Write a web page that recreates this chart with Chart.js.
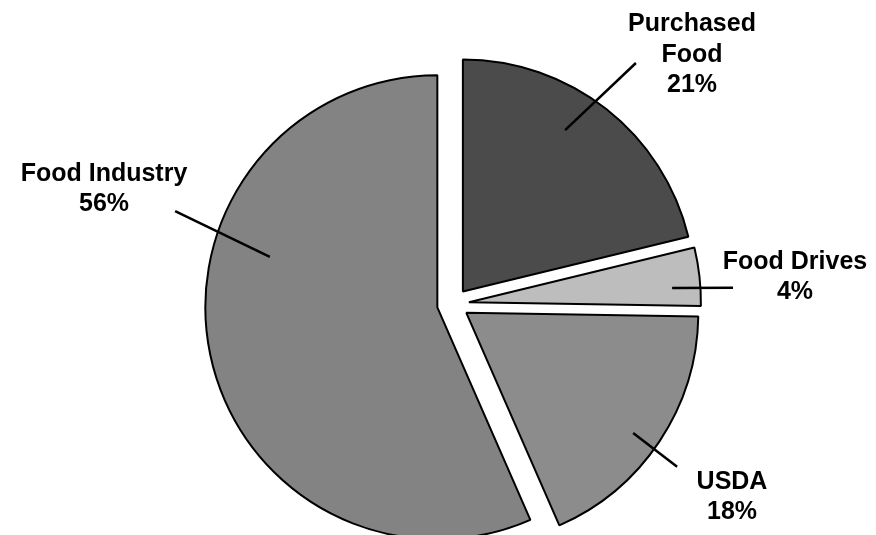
<!DOCTYPE html>
<html>
<head>
<meta charset="utf-8">
<script src="https://cdn.jsdelivr.net/npm/chart.js@4/dist/chart.umd.min.js"></script>
<style>
  html, body { margin: 0; padding: 0; background: #ffffff; }
  #wrap { width: 876px; height: 535px; }
  canvas { display: block; }
</style>
</head>
<body>
<div id="wrap"><canvas id="c" width="876" height="535"></canvas></div>
<script>
// ---- data ----
const categories = ["Purchased Food", "Food Drives", "USDA", "Food Industry"];
const shares = [21, 4, 18, 56];
const labelLines = [["Purchased", "Food"], ["Food Drives"], ["USDA"], ["Food Industry"]];

// ---- styling ----
const sliceColors = ["#4b4b4b", "#bdbdbd", "#8c8c8c", "#838383"];
const EXPLODE = 16; // px each slice is pulled out along its bisector

// label leader geometry, relative to the pie centre (angle in degrees clockwise from 12 o'clock,
// radii as fractions of the outer radius) and text-block centre offsets in px
const leaderSpec = [
  { a1: 32.8, r1: 0.892, a2: 37.2, r2: 1.304, tx: 239, ty: -250 },
  { a1: 85.8, r1: 0.947, a2: 86.7, r2: 1.209, tx: 342, ty: -28 },
  { a1: 125.6, r1: 0.955, a2: 126.0, r2: 1.194, tx: 279, ty: 192 },
  { a1: 284.4, r1: 0.815, a2: 288.5, r2: 1.263, tx: -349, ty: -116 }
];

// pull each arc element out along its bisector (uniform translation, radius unchanged)
const explodePlugin = {
  id: 'explodeSlices',
  beforeDatasetsDraw(chart) {
    chart.getDatasetMeta(0).data.forEach(el => {
      if (el._explodeWrapped) return;
      const orig = el.draw;
      el.draw = function (ctx, area) {
        const mid = (this.startAngle + this.endAngle) / 2;
        ctx.save();
        ctx.translate(Math.cos(mid) * EXPLODE, Math.sin(mid) * EXPLODE);
        orig.call(this, ctx, area);
        ctx.restore();
      };
      el._explodeWrapped = true;
    });
  }
};

const labelPlugin = {
  id: 'sliceLabels',
  afterDatasetsDraw(chart) {
    const ctx = chart.ctx;
    const meta = chart.getDatasetMeta(0);
    ctx.save();
    meta.data.forEach((arc, i) => {
      const p = arc.getProps(['x', 'y', 'outerRadius'], true);
      const R = p.outerRadius;
      const s = leaderSpec[i];
      const pt = (a, r) => {
        const rad = a * Math.PI / 180;
        return [p.x + Math.sin(rad) * r * R, p.y - Math.cos(rad) * r * R];
      };
      const [x1, y1] = pt(s.a1, s.r1);
      const [x2, y2] = pt(s.a2, s.r2);
      ctx.beginPath();
      ctx.moveTo(x1, y1);
      ctx.lineTo(x2, y2);
      ctx.lineWidth = 2.5;
      ctx.strokeStyle = '#000';
      ctx.stroke();

      const lines = labelLines[i].concat([shares[i] + '%']);
      const lh = 30.5;
      ctx.font = 'bold 25px "Liberation Sans", Arial, sans-serif';
      ctx.fillStyle = '#000';
      ctx.textAlign = 'center';
      ctx.textBaseline = 'middle';
      const cx = p.x + s.tx;
      const cy = p.y + s.ty;
      lines.forEach((t, k) => {
        ctx.fillText(t, cx, cy + (k - (lines.length - 1) / 2) * lh + 1);
      });
    });
    ctx.restore();
  }
};

new Chart(document.getElementById('c'), {
  type: 'pie',
  data: {
    labels: categories,
    datasets: [{
      data: shares,
      backgroundColor: sliceColors,
      borderColor: '#000',
      borderWidth: 2,
      offset: 0,
      hoverOffset: 0,
      radius: 232
    }]
  },
  options: {
    responsive: false,
    animation: false,
    rotation: 0,
    events: [],
    layout: { padding: { left: 30, top: 73, right: 0, bottom: 0 } },
    plugins: {
      legend: { display: false },
      tooltip: { enabled: false }
    }
  },
  plugins: [explodePlugin, labelPlugin]
});
</script>
</body>
</html>
